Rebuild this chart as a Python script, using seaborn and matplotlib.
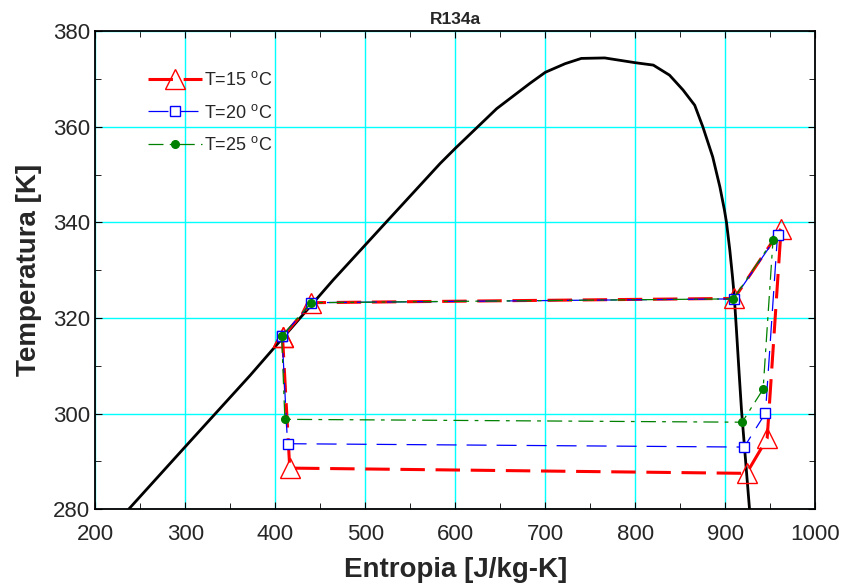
import matplotlib
matplotlib.use("Agg")
import matplotlib.pyplot as plt
import seaborn as sns
from matplotlib.ticker import MultipleLocator

# saturation dome of R134a
s_dome = [237, 300, 372, 464, 520, 583, 600, 646, 683, 700, 722, 740, 766,
          800, 820, 838, 853, 866, 875, 886, 894, 899, 901.3, 905, 908, 910, 912.4, 915.5, 918, 927]
T_dome = [280, 293.1, 308, 327.9, 339.4, 352.3, 355.5, 363.8, 369.1, 371.4, 373.2, 374.3, 374.4,
          373.4, 372.9, 370.8, 367.7, 364.5, 360, 353.7, 347.4, 342.6, 340, 334.2, 328.6, 324.4, 317.4, 308, 300.7, 279.8]

# cycle points (closed loop) for each evaporator temperature
s_15 = [408, 440, 910, 962, 946.5, 923.6, 416, 408]
T_15 = [316.0, 323.2, 324.1, 338.7, 294.8, 287.5, 288.6, 316.0]
s_20 = [407.5, 440, 909.5, 958, 944.6, 921, 413.5, 407.5]
T_20 = [316.2, 323.2, 324.0, 337.3, 300.1, 293.0, 293.7, 316.2]
s_25 = [407, 440, 909, 953, 942, 918.7, 410.6, 407]
T_25 = [316.2, 323.2, 324.0, 336.3, 305.1, 298.2, 298.8, 316.2]

labels = [r"T=15 $^\mathregular{o}$C", r"T=20 $^\mathregular{o}$C", r"T=25 $^\mathregular{o}$C"]

sns.set_style("ticks")
plt.rcParams['font.family'] = ['Liberation Sans', 'DejaVu Sans']
plt.rcParams['mathtext.default'] = 'regular'

fig = plt.figure(figsize=(8.44, 5.88), dpi=100)
ax = fig.add_axes([0.113, 0.134, 0.853, 0.813])

sns.lineplot(x=s_dome, y=T_dome, sort=False, estimator=None, color='black', lw=2, ax=ax)

sns.lineplot(x=s_15, y=T_15, sort=False, estimator=None, color='red', lw=2.2,
             linestyle=(0, (8, 3.5)), marker='^', markersize=14.5, markerfacecolor='none',
             markeredgecolor='red', mew=1, label=labels[0], ax=ax)
sns.lineplot(x=s_20, y=T_20, sort=False, estimator=None, color='blue', lw=0.9,
             linestyle=(0, (16, 8)), marker='s', markersize=7.5, markerfacecolor='white',
             markeredgecolor='blue', mew=1, label=labels[1], ax=ax)
sns.lineplot(x=s_25, y=T_25, sort=False, estimator=None, color='green', lw=0.9,
             linestyle=(0, (12, 5, 3, 5)), marker='o', markersize=5.5, markerfacecolor='green',
             markeredgecolor='green', mew=1, label=labels[2], ax=ax)

ax.set_xlim(200, 1000)
ax.set_ylim(280, 380)
ax.xaxis.set_major_locator(MultipleLocator(100))
ax.xaxis.set_minor_locator(MultipleLocator(50))
ax.yaxis.set_major_locator(MultipleLocator(20))
ax.yaxis.set_minor_locator(MultipleLocator(10))
ax.tick_params(which='both', direction='in', top=True, right=True, labelsize=16, color='black')
ax.tick_params(which='major', length=5)
ax.tick_params(which='minor', length=4)
ax.tick_params(axis='x', pad=11)
ax.tick_params(axis='y', pad=4)
ax.grid(True, which='major', color='cyan', lw=1)
ax.set_axisbelow(True)
for sp in ax.spines.values():
    sp.set_linewidth(1.3)
    sp.set_color('black')

ax.set_xlabel("Entropia [J/kg-K]", fontsize=20, fontweight='bold', labelpad=8)
ax.set_ylabel("Temperatura [K]", fontsize=20, fontweight='bold', labelpad=8)
ax.set_title("R134a", fontsize=12.5, fontweight='bold', pad=5)

ax.legend(loc='upper left', bbox_to_anchor=(0.05, 0.95), frameon=False, fontsize=13,
          handlelength=3.0, handletextpad=0.1, labelspacing=0.8)

fig.savefig("out.png", dpi=100)
